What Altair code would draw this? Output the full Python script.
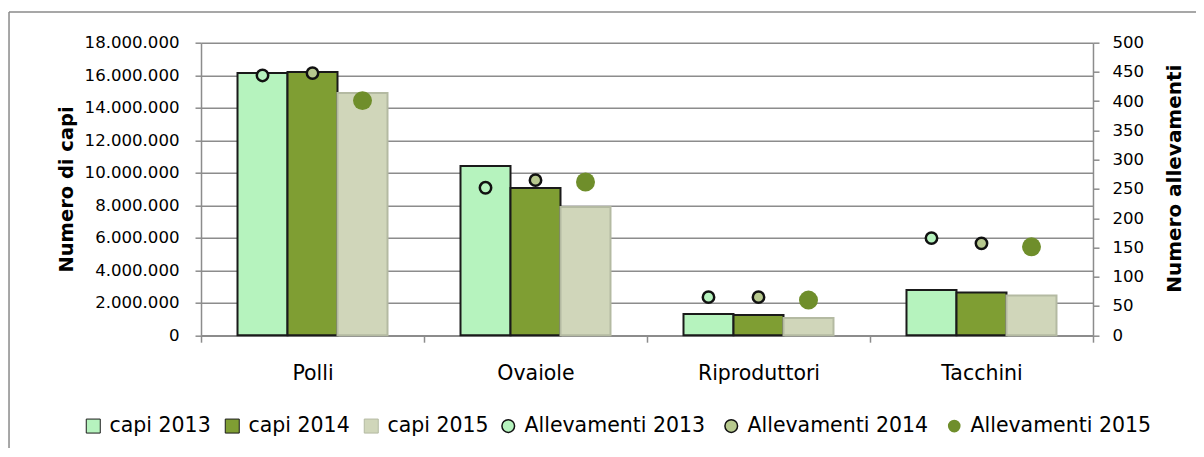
import altair as alt
import pandas as pd

categories = ["Polli", "Ovaiole", "Riproduttori", "Tacchini"]
years = ["2013", "2014", "2015"]

capi_2013 = [16140000, 10410000, 1300000, 2780000]
capi_2014 = [16200000, 9060000, 1240000, 2620000]
capi_2015 = [14900000, 7890000, 1060000, 2450000]

allev_2013 = [444, 252, 65, 166]
allev_2014 = [448, 265, 65, 157]
allev_2015 = [401, 262, 60, 151]

capi_labels = ["capi 2013", "capi 2014", "capi 2015"]
allev_labels = ["Allevamenti 2013", "Allevamenti 2014", "Allevamenti 2015"]

bar_rows = []
for yr, lab, vals in zip(years, capi_labels, [capi_2013, capi_2014, capi_2015]):
    for c, v in zip(categories, vals):
        bar_rows.append({"categoria": c, "anno": yr, "serie": lab, "capi": v})
bars_df = pd.DataFrame(bar_rows)

pt_rows = []
for yr, lab, vals in zip(years, allev_labels, [allev_2013, allev_2014, allev_2015]):
    for c, v in zip(categories, vals):
        pt_rows.append({"categoria": c, "anno": yr, "serie": lab, "allev": v})
pts_df = pd.DataFrame(pt_rows)

FONT = "DejaVu Sans"
GRID = "#8c8c8c"

x_enc = alt.X(
    "categoria:N", sort=categories,
    scale=alt.Scale(paddingInner=0, paddingOuter=0),
    axis=alt.Axis(title=None, labelAngle=0, tickBand="extent", grid=False,
                  labelFontSize=20.5, labelPadding=21, tickSize=7,
                  domainColor=GRID, domainWidth=1.5, tickColor=GRID, tickWidth=1.5,
                  labelColor="black"),
)
xoff_enc = alt.XOffset("anno:N", sort=years,
                       scale=alt.Scale(paddingInner=0, paddingOuter=0.73))

bar_fill = ["#B6F3BE", "#7F9E33", "#D0D6BA"]
bar_stroke = ["#1a1a1a", "#1a1a1a", "#b4baa2"]

bar_legend = alt.Legend(orient="none", legendX=-118, legendY=373, direction="horizontal",
                        title=None, symbolType="square", symbolSize=196,
                        labelFontSize=20.5, labelOffset=6, columnPadding=11,
                        labelLimit=400,
                        symbolStrokeWidth=1, padding=0, labelColor="black")

bars = alt.Chart(bars_df).mark_bar(strokeWidth=2).encode(
    x=x_enc,
    xOffset=xoff_enc,
    y=alt.Y("capi:Q", scale=alt.Scale(domain=[0, 18000000], nice=False),
            axis=alt.Axis(orient="left", title="Numero di capi",
                          values=list(range(0, 18000001, 2000000)),
                          labelExpr="replace(format(datum.value, ',.0f'), /,/g, '.')",
                          labelFontSize=16.6, labelPadding=16, tickSize=6,
                          titleFontSize=19.5, titleFontWeight="bold", titlePadding=8,
                          grid=True, gridColor=GRID, gridWidth=1.5,
                          domainColor=GRID, domainWidth=1.5, tickColor=GRID, tickWidth=1.5,
                          labelColor="black", titleColor="black")),
    color=alt.Color("serie:N", scale=alt.Scale(domain=capi_labels, range=bar_fill),
                    legend=bar_legend),
    stroke=alt.Stroke("serie:N", scale=alt.Scale(domain=capi_labels, range=bar_stroke),
                      legend=bar_legend),
)

pt_fill = ["#B6F3BE", "#B7C98E", "#6F8E2B"]
pt_stroke = ["#111111", "#111111", "transparent"]

pt_legend = alt.Legend(orient="none", legendX=297, legendY=373, direction="horizontal",
                       title=None, symbolType="circle", symbolSize=160,
                       labelFontSize=20.5, labelOffset=6, columnPadding=15,
                       labelLimit=400,
                       symbolStrokeWidth=1.5, padding=0, labelColor="black")

points = alt.Chart(pts_df).mark_point(filled=True, opacity=1, strokeWidth=2.5).encode(
    x=x_enc,
    xOffset=xoff_enc,
    y=alt.Y("allev:Q", scale=alt.Scale(domain=[0, 500], nice=False),
            axis=alt.Axis(orient="right", title="Numero allevamenti",
                          values=list(range(0, 501, 50)),
                          labelFontSize=16.6, labelPadding=13, tickSize=6,
                          titleFontSize=20, titleFontWeight="bold", titlePadding=21,
                          titleAngle=270, titleBaseline="top", titleY=135.5,
                          grid=False,
                          domainColor=GRID, domainWidth=1.5, tickColor=GRID, tickWidth=1.5,
                          labelColor="black", titleColor="black")),
    color=alt.Color("serie:N", scale=alt.Scale(domain=allev_labels, range=pt_fill),
                    legend=pt_legend),
    stroke=alt.Stroke("serie:N", scale=alt.Scale(domain=allev_labels, range=pt_stroke),
                      legend=pt_legend),
    size=alt.Size("serie:N",
                  scale=alt.Scale(type="ordinal", domain=allev_labels, range=[130, 130, 360]),
                  legend=None),
)

frame_top = alt.Chart().mark_rule(color="#8a8a8a", strokeWidth=1.5).encode(
    x=alt.value(-192), x2=alt.value(1010), y=alt.value(-30.7))
frame_left = alt.Chart().mark_rule(color="#8a8a8a", strokeWidth=1.5).encode(
    x=alt.value(-192), y=alt.value(-30.7), y2=alt.value(420))

chart = alt.layer(frame_top, frame_left, bars, points).resolve_scale(
    y="independent", color="independent", stroke="independent"
).properties(
    width=892, height=292.5,
    autosize=alt.AutoSizeParams(type="none"),
    padding={"left": 193, "top": 34.7, "right": 103, "bottom": 113},
).configure(font=FONT).configure_view(stroke=None)

chart.save("out.html", embed_options={"renderer": "svg", "actions": False})
